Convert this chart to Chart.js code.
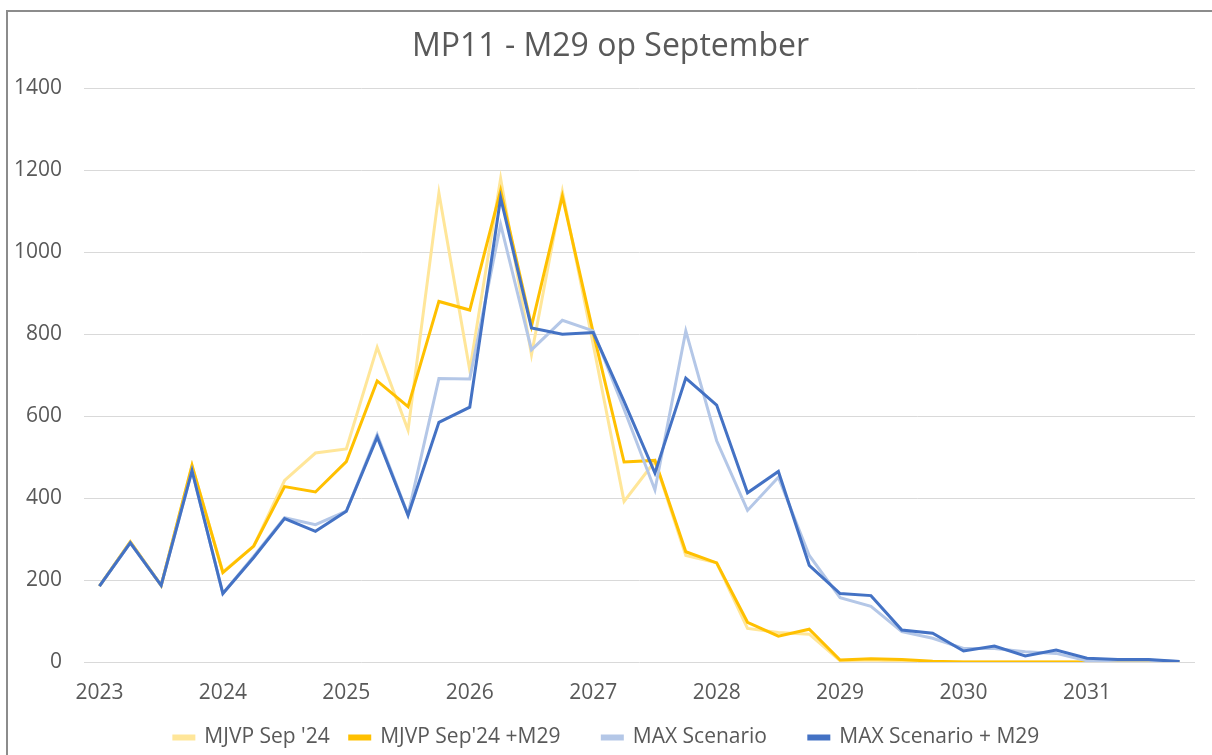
<!DOCTYPE html>
<html>
<head>
<meta charset="utf-8">
<script src="https://cdn.jsdelivr.net/npm/chart.js@4.4.1/dist/chart.umd.min.js"></script>
<style>
  body { margin: 0; background: #fff; }
  #wrap { position: relative; width: 1212px; height: 755px; overflow: hidden; }
  #frame { position: absolute; left: 6px; top: 10px; width: 1300px; height: 800px;
           border-top: 2px solid #8c8c8c; border-left: 2px solid #8c8c8c; pointer-events: none; }
  canvas { position: absolute; left: 0; top: 0; }
</style>
</head>
<body>
<div id="wrap">
  <canvas id="chart" width="1212" height="755"></canvas>
  <div id="frame"></div>
</div>
<script>
// quarters 2023 Q1 .. 2031 Q4
const quarters = ['2023 Q1','2023 Q2','2023 Q3','2023 Q4','2024 Q1','2024 Q2','2024 Q3','2024 Q4',
  '2025 Q1','2025 Q2','2025 Q3','2025 Q4','2026 Q1','2026 Q2','2026 Q3','2026 Q4',
  '2027 Q1','2027 Q2','2027 Q3','2027 Q4','2028 Q1','2028 Q2','2028 Q3','2028 Q4',
  '2029 Q1','2029 Q2','2029 Q3','2029 Q4','2030 Q1','2030 Q2','2030 Q3','2030 Q4',
  '2031 Q1','2031 Q2','2031 Q3','2031 Q4']
const yearLabels = ['2023','2024','2025','2026','2027','2028','2029','2030','2031']

const mjvp = [185, 293, 187, 480, 220, 283, 443, 510, 520, 768, 566, 1145, 712, 1180, 750, 1149,
  775, 392, 490, 260, 242, 82, 72, 68, 3, 5, 2, 0, 0, 0, 0, 0, 0, 0, 0, 0]
const mjvpM29 = [185, 293, 187, 480, 218, 283, 428, 415, 489, 686, 623, 880, 859, 1151, 820, 1137,
  804, 488, 492, 269, 242, 97, 63, 80, 5, 8, 6, 2, 0, 0, 0, 0, 0, 0, 0, 0]
const maxScen = [185, 291, 187, 467, 167, 258, 352, 335, 368, 555, 360, 692, 691, 1068, 762, 834,
  808, 617, 420, 808, 540, 370, 451, 260, 157, 136, 74, 58, 33, 33, 25, 21, 3, 4, 4, 1]
const maxM29 = [185, 291, 187, 467, 167, 255, 350, 319, 368, 549, 358, 585, 622, 1133, 815, 800,
  804, 636, 461, 693, 627, 413, 465, 236, 167, 162, 78, 70, 27, 39, 15, 29, 9, 6, 6, 1]

const txt = '#595959'
const fam = "'Open Sans', sans-serif"

function line(label, data, color, order){
  return {
    label: label,
    data: data,
    borderColor: color,
    backgroundColor: color,
    borderWidth: 3,
    pointRadius: 0,
    tension: 0,
    order: order
  }
}

// nudge title and legend a little to the right, like the excel original
const nudge = {
  id: 'nudge',
  afterLayout(chart) {
    const t = chart.titleBlock, l = chart.legend
    if (t) { t.left += 9; t.right += 9 }
    if (l) { l.left += 16; l.right += 16; l.top += 3; l.bottom += 3 }
  }
}

const ctx = document.getElementById('chart').getContext('2d')
new Chart(ctx, {
  type: 'line',
  data: {
    labels: quarters,
    datasets: [
      line("MJVP Sep '24", mjvp, '#FFE699', 3),
      line("MJVP Sep'24 +M29", mjvpM29, '#FFC000', 2),
      line('MAX Scenario', maxScen, '#B4C7E7', 1),
      line('MAX Scenario + M29', maxM29, '#4472C4', 0)
    ]
  },
  plugins: [nudge],
  options: {
    responsive: false,
    animation: false,
    layout: { padding: { left: 8, right: 17, top: 0, bottom: 0 } },
    plugins: {
      title: {
        display: true,
        text: 'MP11 - M29 op September',
        color: txt,
        font: { family: fam, size: 32, weight: 'normal' },
        padding: { top: 28, bottom: 22 }
      },
      legend: {
        position: 'bottom',
        labels: {
          color: txt,
          font: { family: fam, size: 21 },
          boxWidth: 20,
          boxHeight: 3,
          padding: 20,
          sort: (a, b) => a.datasetIndex - b.datasetIndex,
          generateLabels: chart => {
            const items = Chart.defaults.plugins.legend.labels.generateLabels(chart)
            // a bit more room between entries, like the original
            items.forEach((it, i) => { if (i < items.length - 1) it.text = it.text + '    ' })
            return items
          }
        }
      },
      tooltip: { enabled: false }
    },
    scales: {
      x: {
        offset: true,
        grid: { display: false, drawTicks: false },
        border: { display: false },
        ticks: {
          color: txt,
          font: { family: fam, size: 21 },
          autoSkip: false,
          maxRotation: 0,
          padding: 18,
          callback: (v, i) => i % 4 === 0 ? yearLabels[i / 4] : ''
        },
        afterFit: s => { s.height = 42 }
      },
      y: {
        min: 0,
        max: 1400,
        grid: { color: '#d9d9d9', lineWidth: 1, drawTicks: false },
        border: { display: false },
        ticks: {
          stepSize: 200,
          color: txt,
          font: { family: fam, size: 21 },
          padding: 22,
          callback: v => String(v)
        },
        afterFit: s => { s.width = 76 }
      }
    }
  }
})
</script>
</body>
</html>
